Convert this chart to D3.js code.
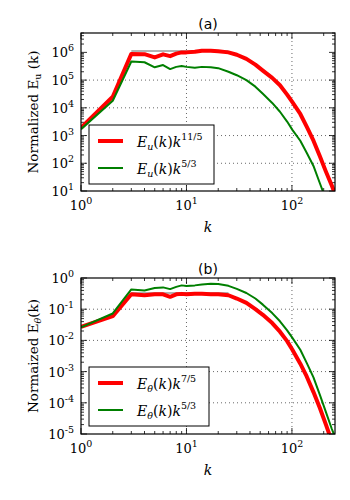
<!DOCTYPE html>
<html>
<head>
<meta charset="utf-8">
<script src="https://cdn.jsdelivr.net/npm/d3@7"></script>
<style>
  body { margin: 0; background: #fff; }
  svg { display: block; }
</style>
</head>
<body>
<script>
// wavenumbers sampled along the curves
const kA = [1, 2, 3, 4, 5, 6, 7, 8, 9, 10, 12, 14, 17, 20, 25, 30, 37, 45, 53, 65, 77, 90, 101, 120, 138, 160, 184, 210, 238, 256];
const euRed = [1.9e3, 2.5e4, 8.8e5, 8.6e5, 6.6e5, 8.5e5, 7.3e5, 9.0e5, 1.0e6, 1.0e6, 1.05e6, 1.15e6, 1.15e6, 1.1e6, 1.0e6, 8.2e5, 5.8e5, 3.6e5, 2.2e5, 1.2e5, 6.5e4, 3.0e4, 1.6e4, 6.0e3, 2.1e3, 6.5e2, 1.8e2, 50, 16, 8];
const euGreen = [1.7e3, 1.8e4, 4.7e5, 4.4e5, 2.9e5, 3.5e5, 2.5e5, 3.0e5, 3.2e5, 3.0e5, 2.8e5, 3.0e5, 2.9e5, 2.7e5, 2.0e5, 1.5e5, 1.0e5, 5.8e4, 3.2e4, 1.5e4, 7.2e3, 3.2e3, 1.6e3, 6.5e2, 2.4e2, 80, 19, 5, 1.5, 0.8];
const etRed = [0.027, 0.06, 0.30, 0.28, 0.30, 0.30, 0.25, 0.30, 0.31, 0.30, 0.31, 0.31, 0.30, 0.30, 0.28, 0.22, 0.16, 0.10, 0.066, 0.036, 0.019, 0.0095, 0.005, 1.8e-3, 7e-4, 2.2e-4, 6.8e-5, 2e-5, 6e-6, 3e-6];
const etGreen = [0.026, 0.073, 0.43, 0.40, 0.48, 0.50, 0.44, 0.52, 0.58, 0.55, 0.58, 0.62, 0.66, 0.64, 0.56, 0.45, 0.33, 0.22, 0.14, 0.075, 0.041, 0.021, 0.012, 5e-3, 1.9e-3, 6.5e-4, 1.8e-4, 5e-5, 1.5e-5, 8e-6];
// reference plateau lines
const refK = [3, 25];
const refA = [1.12e6, 1.12e6];
const refB = [0.33, 0.33];
const xTicks = [1, 10, 100];
const yTicksA = [10, 100, 1e3, 1e4, 1e5, 1e6];
const yTicksB = [1e-5, 1e-4, 1e-3, 1e-2, 1e-1, 1];

const W = 350, H = 500;
const svg = d3.select("body").append("svg").attr("width", W).attr("height", H);
const serif = "'DejaVu Serif', serif";

function powLabel(sel, v) {
  const e = Math.round(Math.log10(v));
  sel.append("tspan").text("10");
  sel.append("tspan").attr("dy", -6).attr("font-size", 9.5).text(e);
}

function panel(o) {
  const x = d3.scaleLog().domain([1, 256]).range([81, 335]);
  const y = d3.scaleLog().domain(o.ydom).range([o.bottom, o.top]);
  const g = svg.append("g");
  const clipId = "clip" + o.id;
  g.append("clipPath").attr("id", clipId).append("rect")
    .attr("x", 81).attr("y", o.top).attr("width", 254).attr("height", o.bottom - o.top);

  // grid
  g.selectAll(".gx").data([10, 100]).enter().append("line")
    .attr("x1", d => x(d)).attr("x2", d => x(d)).attr("y1", o.top).attr("y2", o.bottom)
    .attr("stroke", "#000").attr("stroke-width", 0.6).attr("stroke-dasharray", "1,3");
  g.selectAll(".gy").data(o.yticks.slice(1, -1)).enter().append("line")
    .attr("x1", 81).attr("x2", 335).attr("y1", d => y(d)).attr("y2", d => y(d))
    .attr("stroke", "#000").attr("stroke-width", 0.6).attr("stroke-dasharray", "1,3");

  // ticks (inward, all sides)
  const xMinor = [];
  for (let dec = 1; dec <= 100; dec *= 10) for (let m = 2; m <= 9; m++) if (dec * m <= 256) xMinor.push(dec * m);
  const lo = Math.round(Math.log10(o.ydom[0])), hi = Math.round(Math.log10(o.ydom[1]));
  const yMinor = [];
  for (let e = lo; e < hi + 1; e++) for (let m = 2; m <= 9; m++) {
    const v = m * Math.pow(10, e);
    if (v <= o.ydom[1]) yMinor.push(v);
  }
  const tk = g.append("g").attr("stroke", "#000").attr("stroke-width", 0.8);
  xTicks.forEach(d => {
    tk.append("line").attr("x1", x(d)).attr("x2", x(d)).attr("y1", o.bottom).attr("y2", o.bottom - 6);
    tk.append("line").attr("x1", x(d)).attr("x2", x(d)).attr("y1", o.top).attr("y2", o.top + 6);
  });
  xMinor.forEach(d => {
    tk.append("line").attr("x1", x(d)).attr("x2", x(d)).attr("y1", o.bottom).attr("y2", o.bottom - 3);
    tk.append("line").attr("x1", x(d)).attr("x2", x(d)).attr("y1", o.top).attr("y2", o.top + 3);
  });
  o.yticks.forEach(d => {
    tk.append("line").attr("x1", 81).attr("x2", 87).attr("y1", y(d)).attr("y2", y(d));
    tk.append("line").attr("x1", 335).attr("x2", 329).attr("y1", y(d)).attr("y2", y(d));
  });
  yMinor.forEach(d => {
    tk.append("line").attr("x1", 81).attr("x2", 84).attr("y1", y(d)).attr("y2", y(d));
    tk.append("line").attr("x1", 335).attr("x2", 332).attr("y1", y(d)).attr("y2", y(d));
  });

  // curves
  const line = d3.line().x(d => x(d[0])).y(d => y(d[1]));
  const cg = g.append("g").attr("clip-path", `url(#${clipId})`);
  cg.append("path").datum(d3.zip(refK, o.ref)).attr("d", line)
    .attr("fill", "none").attr("stroke", "#999").attr("stroke-width", 1.5);
  cg.append("path").datum(d3.zip(kA, o.red)).attr("d", line)
    .attr("fill", "none").attr("stroke", "#ff0000").attr("stroke-width", 4).attr("stroke-linejoin", "round");
  cg.append("path").datum(d3.zip(kA, o.green)).attr("d", line)
    .attr("fill", "none").attr("stroke", "#007f00").attr("stroke-width", 2).attr("stroke-linejoin", "round");

  // frame
  g.append("rect").attr("x", 81).attr("y", o.top).attr("width", 254).attr("height", o.bottom - o.top)
    .attr("fill", "none").attr("stroke", "#000").attr("stroke-width", 1.2);

  // tick labels
  xTicks.forEach(d => {
    g.append("text").attr("x", x(d)).attr("y", o.bottom + 19).attr("text-anchor", "middle")
      .attr("font-family", serif).attr("font-size", 13).call(powLabel, d);
  });
  o.yticks.forEach(d => {
    g.append("text").attr("x", 74).attr("y", y(d) + 5).attr("text-anchor", "end")
      .attr("font-family", serif).attr("font-size", 13).call(powLabel, d);
  });

  // title + axis labels
  g.append("text").attr("x", 208).attr("y", o.top - 4).attr("text-anchor", "middle")
    .attr("font-family", "'DejaVu Sans', sans-serif").attr("font-size", 14).text(o.title);
  g.append("text").attr("x", 208).attr("y", o.bottom + 41).attr("text-anchor", "middle")
    .attr("font-family", serif).attr("font-style", "italic").attr("font-size", 14).text("k");
  const yl = g.append("text").attr("transform", `translate(38,${(o.top + o.bottom) / 2}) rotate(-90)`)
    .attr("text-anchor", "middle").attr("font-family", serif).attr("font-size", 13.5);
  yl.append("tspan").text(o.ylabel[0]);
  yl.append("tspan").attr("dy", 3).attr("font-size", 9.5).attr("font-style", o.ylabel[2] ? "italic" : "normal").text(o.ylabel[1]);
  yl.append("tspan").attr("dy", -3).text(o.ylabel[3]);

  // legend
  const L = o.legend;
  g.append("rect").attr("x", 89).attr("y", L.y).attr("width", L.w).attr("height", 59)
    .attr("fill", "#fff").attr("stroke", "#000").attr("stroke-width", 1);
  [["#ff0000", 4, L.labels[0]], ["#007f00", 2, L.labels[1]]].forEach((it, i) => {
    const ly = L.y + 16 + i * 27;
    g.append("line").attr("x1", 98).attr("x2", 123).attr("y1", ly).attr("y2", ly)
      .attr("stroke", it[0]).attr("stroke-width", it[1]);
    const t = g.append("text").attr("x", 137).attr("y", ly + 6)
      .attr("font-family", serif).attr("font-size", 14);
    t.append("tspan").attr("font-style", "italic").text("E");
    t.append("tspan").attr("font-style", "italic").attr("font-size", 9.5).attr("dy", 3).text(o.sub);
    t.append("tspan").attr("dy", -3).text("(");
    t.append("tspan").attr("font-style", "italic").text("k");
    t.append("tspan").text(")");
    t.append("tspan").attr("font-style", "italic").text("k");
    t.append("tspan").attr("font-size", 9.5).attr("dy", -7).text(it[2]);
  });
}

panel({
  id: "a", top: 33, bottom: 191, ydom: [10, 5e6], yticks: yTicksA,
  red: euRed, green: euGreen, ref: refA, title: "(a)",
  ylabel: ["Normalized E", "u", false, " (k)"],
  sub: "u", legend: { y: 125, w: 125, labels: ["11/5", "5/3"] }
});
panel({
  id: "b", top: 278, bottom: 434, ydom: [1e-5, 1], yticks: yTicksB,
  red: etRed, green: etGreen, ref: refB, title: "(b)",
  ylabel: ["Normaized E", "θ", true, "(k)"],
  sub: "θ", legend: { y: 367, w: 120, labels: ["7/5", "5/3"] }
});
</script>
</body>
</html>
